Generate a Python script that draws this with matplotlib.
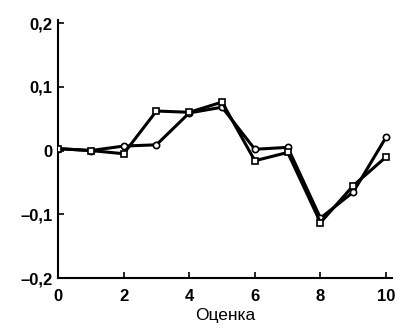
import matplotlib
matplotlib.use("Agg")
import matplotlib.pyplot as plt

# оценки (x) и два ряда значений
scores = [0, 1, 2, 3, 4, 5, 6, 7, 8, 9, 10]
series_sq = [0.003, 0.0, -0.005, 0.062, 0.060, 0.076, -0.016, -0.003, -0.113, -0.055, -0.010]
series_ci = [0.003, 0.0, 0.007, 0.009, 0.059, 0.068, 0.002, 0.005, -0.106, -0.065, 0.021]

xticks = [0, 2, 4, 6, 8, 10]
yticks = [-0.2, -0.1, 0, 0.1, 0.2]
ytick_labels = ["\u20130,2", "\u20130,1", "0", "0,1", "0,2"]

plt.rcParams['font.family'] = ['Liberation Sans', 'DejaVu Sans']

fig = plt.figure(figsize=(4.01, 3.31), dpi=100)
ax = fig.add_axes([0.1446, 0.160, 0.833, 0.78])

ax.plot(scores, series_ci, color='black', lw=2.2, marker='o', ms=4.5,
        mfc='white', mec='black', mew=1.2, zorder=3)
ax.plot(scores, series_sq, color='black', lw=2.2, marker='s', ms=5,
        mfc='white', mec='black', mew=1.2, zorder=4)

ax.set_xlim(0, 10.18)
ax.set_ylim(-0.2, 0.205)
ax.set_xticks(xticks)
ax.set_xticklabels([str(t) for t in xticks], fontsize=12, fontweight='bold')
ax.set_yticks(yticks)
ax.set_yticklabels(ytick_labels, fontsize=12, fontweight='bold')
ax.tick_params(direction='in', length=4, width=1.2)
ax.tick_params(axis='x', pad=8)
ax.tick_params(axis='y', pad=4)

for s in ['top', 'right']:
    ax.spines[s].set_visible(False)
for s in ['left', 'bottom']:
    ax.spines[s].set_linewidth(1.5)

ax.set_xlabel("Оценка", fontsize=12.5, labelpad=3)

fig.savefig("out.png", dpi=100)
